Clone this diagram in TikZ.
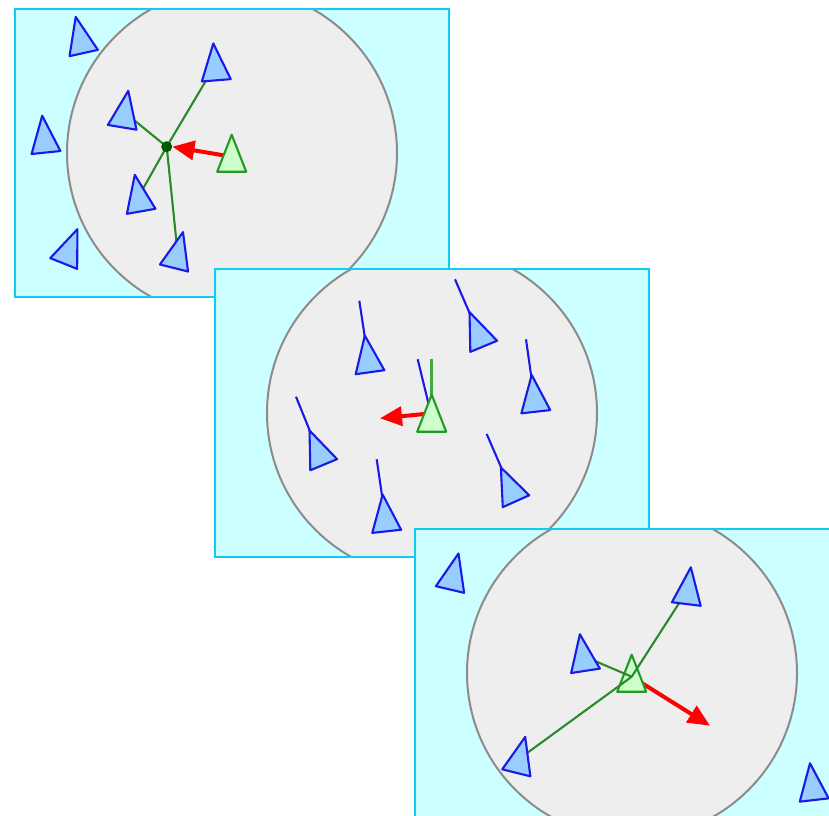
\documentclass[tikz,border=0pt]{standalone}
\usetikzlibrary{calc,arrows.meta}
\definecolor{bgcyan}{HTML}{CCFFFF}
\definecolor{framecyan}{HTML}{11CCF2}
\definecolor{disc}{HTML}{EEEEEE}
\definecolor{discline}{HTML}{8C8C8C}
\definecolor{boidblue}{HTML}{1A1AE6}
\definecolor{boidfill}{HTML}{99CCFF}
\definecolor{linkgreen}{HTML}{2A8A2A}
\definecolor{selfline}{HTML}{229A22}
\definecolor{selffill}{HTML}{CCFFCC}
\definecolor{dotgreen}{HTML}{005A00}
\newcommand\boidat[3]{%
  \coordinate (#1b) at #3;
  \coordinate (#1a) at ($(#1b)!37pt!#2$);
  \coordinate (#1) at ($(#1b)!15pt!(#1a)$);
  \coordinate (#1l) at ($(#1b)!14.5pt!90:(#1a)$);
  \coordinate (#1r) at ($(#1b)!14.5pt!-90:(#1a)$);}
\newcommand\boidshape[2]{\draw[#2] (#1a) -- (#1l) -- (#1r) -- cycle;}
\tikzset{
  x=1pt, y=-1pt,
  panelbg/.style={fill=bgcyan},
  panelframe/.style={draw=framecyan, line width=2pt},
  viewdisc/.style={fill=disc, draw=discline, line width=2pt},
  boidother/.style={fill=boidfill, draw=boidblue, line width=2.1pt, line join=round},
  boidself/.style={fill=selffill, draw=selfline, line width=2.1pt, line join=round},
  linkline/.style={draw=linkgreen, line width=2.1pt},
  headline/.style={draw=boidblue, line width=2.1pt},
  selfhead/.style={draw=selfline!85!white, line width=2.6pt},
  steerarrow/.style={draw=red, line width=4pt, -{Triangle[length=22pt,width=19pt]}},
  centdot/.style={circle, fill=dotgreen, inner sep=0pt, minimum size=11pt}
}
\begin{document}
\begin{tikzpicture}
\useasboundingbox (0,0) rectangle (829,815);
\clip (0,0) rectangle (829,815);
% ---------------- panel 1: cohesion
\begin{scope}
  \clip (15,9) rectangle (449,297);
  \fill[panelbg] (15,9) rectangle (449,297);
  \path[viewdisc] (232,153) circle[radius=165];
  \boidat{a1}{(76,18.3)}{(83.7,53)}
  \boidat{a2}{(213.3,43.3)}{(216.3,80.3)}
  \boidat{a3}{(128.3,90.7)}{(122.2,127.3)}
  \boidat{a4}{(42.3,116.7)}{(46,152.5)}
  \boidat{a5}{(135,176)}{(141.2,211.3)}
  \boidat{a6}{(76.7,231)}{(63.7,263.5)}
  \boidat{a7}{(182.7,233.3)}{(174,268)}
  \boidat{g1}{(231.7,135)}{(231.7,171.7)}
  \coordinate (c1) at (166.7,146.7);
  \draw[linkline] (c1) -- (a2);
  \draw[linkline] (c1) -- (a3);
  \draw[linkline] (c1) -- (a5);
  \draw[linkline] (c1) -- (a7);
  \node[centdot] (c1dot) at (c1) {};
  \draw[steerarrow] (g1) -- (c1dot.east);
  \boidshape{a1}{boidother}
  \boidshape{a2}{boidother}
  \boidshape{a3}{boidother}
  \boidshape{a4}{boidother}
  \boidshape{a5}{boidother}
  \boidshape{a6}{boidother}
  \boidshape{a7}{boidother}
  \boidshape{g1}{boidself}
\end{scope}
\draw[panelframe] (15,9) rectangle (449,297);
% ---------------- panel 2: alignment
\begin{scope}
  \clip (215,269) rectangle (649,557);
  \fill[panelbg] (215,269) rectangle (649,557);
  \path[viewdisc] (432,413) circle[radius=165];
  \boidat{b1}{(365,336.7)}{(370,372.2)}
  \boidat{b2}{(470,313.3)}{(483.7,346.3)}
  \boidat{b3}{(531.7,375)}{(535.8,411.7)}
  \boidat{b4}{(310,431.7)}{(323.7,464.7)}
  \boidat{b5}{(382.7,495)}{(386.7,531.3)}
  \boidat{b6}{(501.7,469.3)}{(516,501.2)}
  \boidat{g2}{(431.7,395)}{(431.7,431.7)}
  \coordinate (h1) at (359.3,300.7);
  \coordinate (h2) at (455,279.3);
  \coordinate (h3) at (526,339.3);
  \coordinate (h4) at (296,396.7);
  \coordinate (h5) at (376.7,459.3);
  \coordinate (h6) at (486.7,434);
  \coordinate (hg) at (431.7,359);
  \coordinate (ha) at (417.7,359.3);
  \coordinate (g2c) at (431.7,413.3);
  \coordinate (s2) at (380,418.3);
  \draw[headline] (b1) -- (h1);
  \draw[headline] (b2) -- (h2);
  \draw[headline] (b3) -- (h3);
  \draw[headline] (b4) -- (h4);
  \draw[headline] (b5) -- (h5);
  \draw[headline] (b6) -- (h6);
  \draw[headline] (g2) -- (ha);
  \draw[selfhead] (g2) -- (hg);
  \draw[steerarrow] (g2c) -- (s2);
  \boidshape{b1}{boidother}
  \boidshape{b2}{boidother}
  \boidshape{b3}{boidother}
  \boidshape{b4}{boidother}
  \boidshape{b5}{boidother}
  \boidshape{b6}{boidother}
  \boidshape{g2}{boidself}
\end{scope}
\draw[panelframe] (215,269) rectangle (649,557);
% ---------------- panel 3: separation
\begin{scope}
  \clip (415,529) rectangle (849,817);
  \fill[panelbg] (415,529) rectangle (849,817);
  \path[viewdisc] (632,673) circle[radius=165];
  \boidat{d1}{(458.3,554.3)}{(450,589.5)}
  \boidat{d2}{(690.7,568.3)}{(686.3,604)}
  \boidat{d3}{(580,635)}{(585.5,670.8)}
  \boidat{d4}{(525,737.7)}{(516.3,772.8)}
  \boidat{d5}{(810,763.3)}{(814.2,800)}
  \boidat{g3}{(631.7,655)}{(631.7,691.7)}
  \coordinate (s3) at (710,725.7);
  \draw[steerarrow] (g3) -- (s3);
  \boidshape{g3}{boidself}
  \draw[linkline] (g3) -- (d2);
  \draw[linkline] (g3) -- (d3);
  \draw[linkline] (g3) -- (d4);
  \boidshape{d1}{boidother}
  \boidshape{d2}{boidother}
  \boidshape{d3}{boidother}
  \boidshape{d4}{boidother}
  \boidshape{d5}{boidother}
\end{scope}
\draw[panelframe] (415,529) rectangle (849,817);
\end{tikzpicture}
\end{document}
